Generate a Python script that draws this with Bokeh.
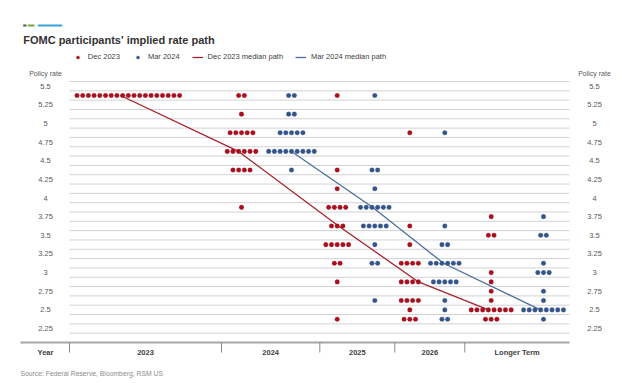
from bokeh.plotting import figure
from bokeh.models import Range1d, Label, Legend, LegendItem, BoxAnnotation
from bokeh.core.properties import value
from bokeh.embed import file_html
from bokeh.resources import INLINE

# ---------------- data ----------------
groups = ["2023", "2024", "2025", "2026", "Longer Term"]

# Dec 2023 projections: rate level -> number of participants
dec_2023_rates = [5.375]
dec_2023_counts = [19]
dec_2024_rates = [5.375, 5.125, 4.875, 4.625, 4.375, 3.875]
dec_2024_counts = [2, 1, 5, 6, 4, 1]
dec_2025_rates = [5.375, 4.375, 4.125, 3.875, 3.625, 3.375, 3.125, 2.875, 2.375]
dec_2025_counts = [1, 1, 1, 4, 3, 5, 2, 1, 1]
dec_2026_rates = [4.875, 3.625, 3.375, 3.125, 2.875, 2.625, 2.5, 2.375]
dec_2026_counts = [1, 1, 1, 4, 4, 4, 1, 3]
dec_lt_rates = [3.75, 3.5, 3.0, 2.875, 2.75, 2.625, 2.5, 2.375]
dec_lt_counts = [1, 2, 1, 1, 1, 1, 8, 3]

# Mar 2024 projections
mar_2024_rates = [5.375, 5.125, 4.875, 4.625, 4.375]
mar_2024_counts = [2, 2, 5, 9, 1]
mar_2025_rates = [5.375, 4.375, 4.125, 3.875, 3.625, 3.375, 3.125, 2.625]
mar_2025_counts = [1, 2, 1, 6, 5, 1, 2, 1]
mar_2026_rates = [4.875, 3.625, 3.375, 3.125, 2.875, 2.625, 2.5, 2.375]
mar_2026_counts = [1, 1, 2, 6, 5, 1, 1, 2]
mar_lt_rates = [3.75, 3.5, 3.125, 3.0, 2.75, 2.625, 2.5, 2.375]
mar_lt_counts = [1, 2, 1, 3, 1, 1, 8, 1]

# median paths
dec_median = [5.375, 4.625, 3.625, 2.875, 2.5]   # 2023 .. Longer Term
mar_median = [4.625, 3.875, 3.125, 2.5]          # 2024 .. Longer Term

y_tick_values = [5.5, 5.25, 5.0, 4.75, 4.5, 4.25, 4.0, 3.75, 3.5, 3.25, 3.0, 2.75, 2.5, 2.25]
y_tick_labels = ["5.5", "5.25", "5", "4.75", "4.5", "4.25", "4", "3.75", "3.5", "3.25", "3", "2.75", "2.5", "2.25"]

# ---------------- layout ----------------
W, H = 622, 383
RED = "#a8101f"
BLUE = "#34558b"
RED_LINE = "#a5232e"
BLUE_LINE = "#4d6f9e"
FONT = "Liberation Sans"

# x in pixels measured from the left edge of the dot area; y in rate units
X0 = 69                      # canvas x of the dot area's left edge
AREA_W = 500
Y_TOP, Y_BOT = 5.5625, 2.0625  # top band line / bottom rule
TOP_PX, BOT_PX = 81, 342       # canvas y of those
PX = (BOT_PX - TOP_PX) / (Y_TOP - Y_BOT)   # pixels per rate unit

dot_step = 5.7
dec_centers = [58.8, 172.0, 267.7, 340.3, 421.7]
mar_centers = [222.0, 305.3, 375.3, 474.0]
group_edges = [0, 152.0, 250.3, 325.3, 395.3]
dec_median_x = [51, 169, 269, 349, 419]
mar_median_x = [222, 303, 374, 471]

dec_sets = [(dec_2023_rates, dec_2023_counts), (dec_2024_rates, dec_2024_counts),
            (dec_2025_rates, dec_2025_counts), (dec_2026_rates, dec_2026_counts),
            (dec_lt_rates, dec_lt_counts)]
mar_sets = [(mar_2024_rates, mar_2024_counts), (mar_2025_rates, mar_2025_counts),
            (mar_2026_rates, mar_2026_counts), (mar_lt_rates, mar_lt_counts)]


def dot_positions(centers, sets):
    xs, ys = [], []
    for c, (rates, counts) in zip(centers, sets):
        for r, n in zip(rates, counts):
            for i in range(n):
                xs.append(c + (i - (n - 1) / 2) * dot_step)
                ys.append(r)
    return xs, ys


dec_x, dec_y = dot_positions(dec_centers, dec_sets)
mar_x, mar_y = dot_positions(mar_centers, mar_sets)

p = figure(width=W, height=H, output_backend="svg", toolbar_location=None,
           x_range=Range1d(-X0, W - X0),
           y_range=Range1d(Y_BOT - (H - BOT_PX) / PX, Y_TOP + TOP_PX / PX),
           min_border=0, x_axis_location=None, y_axis_location=None)
p.outline_line_color = None
p.grid.visible = False
p.background_fill_color = "white"
p.border_fill_color = "white"

# horizontal band lines
grid_vals = [Y_BOT + 0.125 * k for k in range(1, 29)]
p.segment(x0=[0] * len(grid_vals), x1=[AREA_W] * len(grid_vals), y0=grid_vals, y1=grid_vals,
          line_color="#d2d2d2", line_width=1)

# bottom rule and column separators
p.segment(x0=[-49], x1=[AREA_W], y0=[Y_BOT], y1=[Y_BOT], line_color="#a6a6a6", line_width=2)
p.segment(x0=group_edges, x1=group_edges, y0=[Y_BOT] * len(group_edges),
          y1=[Y_BOT - 10 / PX] * len(group_edges), line_color="#8a8a8a", line_width=1)

centers = [(group_edges[i] + (group_edges[i + 1] if i + 1 < len(group_edges) else AREA_W)) / 2
           for i in range(len(group_edges))]
p.text(x=[-24] + centers, y=[Y_BOT - 9.5 / PX] * (len(centers) + 1), text=["Year"] + groups,
       text_font=value(FONT), text_font_size=value("7.5px"), text_font_style=value("bold"),
       text_color="#404040", text_align=value("center"), text_baseline=value("middle"))

# y tick labels on both sides
for xpos in (-24, 525):
    p.text(x=[xpos] * len(y_tick_values), y=y_tick_values, text=y_tick_labels,
           text_font=value(FONT), text_font_size=value("7.5px"), text_color="#595959",
           text_align=value("center"), text_baseline=value("middle"))
    p.text(x=[xpos], y=[Y_TOP + 7.7 / PX], text=["Policy rate"],
           text_font=value(FONT), text_font_size=value("7px"), text_color="#595959",
           text_align=value("center"), text_baseline=value("middle"))

r_red_line = p.line(dec_median_x, dec_median, line_color=RED_LINE, line_width=1.3)
r_blue_line = p.line(mar_median_x, mar_median, line_color=BLUE_LINE, line_width=1.3)
r_red = p.scatter(dec_x, dec_y, size=4.6, fill_color=RED, line_color=RED, line_width=0.3)
r_blue = p.scatter(mar_x, mar_y, size=4.6, fill_color=BLUE, line_color=BLUE, line_width=0.3)

# decorative marks above the title (canvas pixels, y measured from bottom)
for l, r, col in ((22.7, 26.0, "#4f5b3c"), (27.3, 34.0, "#7aa63a"), (37.3, 61.7, "#3aa3dc")):
    p.add_layout(BoxAnnotation(left=l, right=r, bottom=H - 26, top=H - 24,
                               left_units="screen", right_units="screen",
                               bottom_units="screen", top_units="screen",
                               fill_color=col, fill_alpha=1, line_color=None))

p.add_layout(Label(x=22.7, y=H - 39, x_units="screen", y_units="screen",
                   text="FOMC participants' implied rate path", text_font=FONT,
                   text_font_size="11px", text_font_style="bold", text_color="#333333",
                   text_baseline="alphabetic"))
p.add_layout(Label(x=20, y=H - 373, x_units="screen", y_units="screen",
                   text="Source: Federal Reserve, Bloomberg, RSM US", text_font=FONT,
                   text_font_size="6.8px", text_color="#8c8c8c", text_baseline="middle"))

legend = Legend(items=[LegendItem(label="Dec 2023", renderers=[r_red]),
                       LegendItem(label="Mar 2024", renderers=[r_blue]),
                       LegendItem(label="Dec 2023 median path", renderers=[r_red_line]),
                       LegendItem(label="Mar 2024 median path", renderers=[r_blue_line])],
                orientation="horizontal", location=(71.8, H - 61.3))
legend.glyph_width = 11
legend.glyph_height = 8
legend.label_height = 8
legend.label_standoff = 5
legend.spacing = 12
legend.padding = 0
legend.margin = 0
legend.background_fill_alpha = 0
legend.border_line_color = None
legend.label_text_font = FONT
legend.label_text_font_size = "7.5px"
legend.label_text_color = "#404040"
p.add_layout(legend, "center")

open("out.html", "w").write(file_html(p, INLINE))
